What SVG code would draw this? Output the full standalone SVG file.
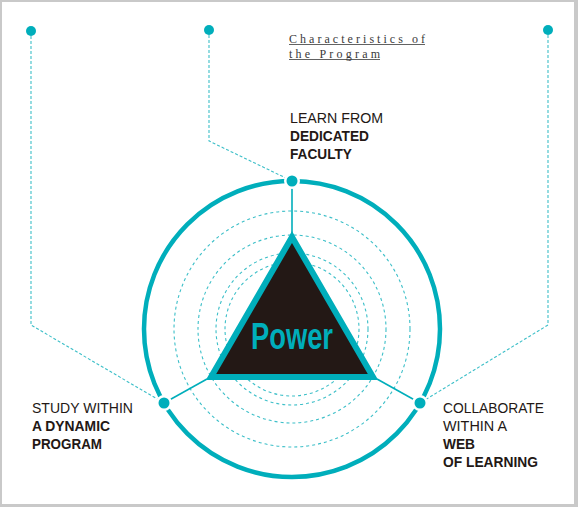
<svg xmlns="http://www.w3.org/2000/svg" width="578" height="507" viewBox="0 0 578 507">
<style>
.frame{fill:#c9c9c9}
.bg{fill:#ffffff}
.dash{fill:none;stroke:#3cbfc8;stroke-width:1.1;stroke-dasharray:3 2}
.ring{fill:none;stroke:#3cbfc8;stroke-width:1.1;stroke-dasharray:3 3}
.main{fill:none;stroke:#00aebb;stroke-width:4.5}
.solid{fill:none;stroke:#00aebb;stroke-width:1.6}
.dot{fill:#00aebb}
.gap{fill:#ffffff}
.lbl{font-family:"Liberation Sans",Arial,sans-serif;font-size:15px;fill:#231815}
.b{font-weight:bold}
.title{font-family:"Liberation Serif","Times New Roman",serif;font-size:12px;fill:#3a3a3a}
</style>
<rect class="frame" x="0" y="0" width="578" height="507"/>
<rect class="bg" x="2" y="2" width="572" height="502"/>

<g id="title">
<text class="title" x="289" y="42.5" textLength="136" lengthAdjust="spacing">Characteristics of</text>
<text class="title" x="289" y="57.5" textLength="91" lengthAdjust="spacing">the Program</text>
<line x1="289" y1="44.5" x2="425" y2="44.5" stroke="#3a3a3a" stroke-width="0.8"/>
<line x1="289" y1="59.5" x2="380" y2="59.5" stroke="#3a3a3a" stroke-width="0.8"/>
</g>

<g id="rings">
<circle class="ring" cx="292" cy="329" r="118"/>
<circle class="ring" cx="292" cy="329" r="94"/>
<circle class="ring" cx="292" cy="329" r="76"/>
<circle class="ring" cx="292" cy="329" r="67"/>
<circle class="main" cx="292" cy="329" r="148"/>
</g>

<g id="connectors">
<polyline class="dash" points="31,31 31,325 164,403"/>
<polyline class="dash" points="209,30 209,141 292,181"/>
<polyline class="dash" points="548,30 548,325 420,403"/>
<line class="solid" x1="292" y1="181" x2="292" y2="233"/>
<line class="solid" x1="207" y1="379" x2="164" y2="403"/>
<line class="solid" x1="377" y1="379" x2="420" y2="403"/>
</g>

<g id="power">
<polygon points="292,237 373,377 211,377" fill="#231815" stroke="#00aebb" stroke-width="6" stroke-linejoin="miter"/>
<text x="292" y="349" text-anchor="middle" font-family="Liberation Sans,Arial,sans-serif" font-weight="bold" font-size="37" fill="#00aebb" textLength="82" lengthAdjust="spacingAndGlyphs">Power</text>
</g>

<g id="dots">
<circle class="dot" cx="31" cy="31" r="5"/>
<circle class="dot" cx="209" cy="30" r="5"/>
<circle class="dot" cx="548" cy="30" r="5"/>
<circle class="gap" cx="292" cy="181" r="8"/>
<circle class="dot" cx="292" cy="181" r="5.5"/>
<circle class="gap" cx="164" cy="403" r="8"/>
<circle class="dot" cx="164" cy="403" r="5.5"/>
<circle class="gap" cx="420" cy="403" r="8"/>
<circle class="dot" cx="420" cy="403" r="5.5"/>
</g>

<g id="faculty">
<text class="lbl" x="290" y="123" textLength="93" lengthAdjust="spacingAndGlyphs">LEARN FROM</text>
<text class="lbl b" x="290" y="141" textLength="79" lengthAdjust="spacingAndGlyphs">DEDICATED</text>
<text class="lbl b" x="290" y="159" textLength="62" lengthAdjust="spacingAndGlyphs">FACULTY</text>
</g>

<g id="program">
<text class="lbl" x="32" y="413" textLength="101" lengthAdjust="spacingAndGlyphs">STUDY WITHIN</text>
<text class="lbl b" x="32" y="431" textLength="78" lengthAdjust="spacingAndGlyphs">A DYNAMIC</text>
<text class="lbl b" x="32" y="449" textLength="70" lengthAdjust="spacingAndGlyphs">PROGRAM</text>
</g>

<g id="learning">
<text class="lbl" x="443" y="413" textLength="101" lengthAdjust="spacingAndGlyphs">COLLABORATE</text>
<text class="lbl" x="443" y="431" textLength="64" lengthAdjust="spacingAndGlyphs">WITHIN A</text>
<text class="lbl b" x="443" y="449" textLength="32" lengthAdjust="spacingAndGlyphs">WEB</text>
<text class="lbl b" x="443" y="467" textLength="95" lengthAdjust="spacingAndGlyphs">OF LEARNING</text>
</g>
</svg>
